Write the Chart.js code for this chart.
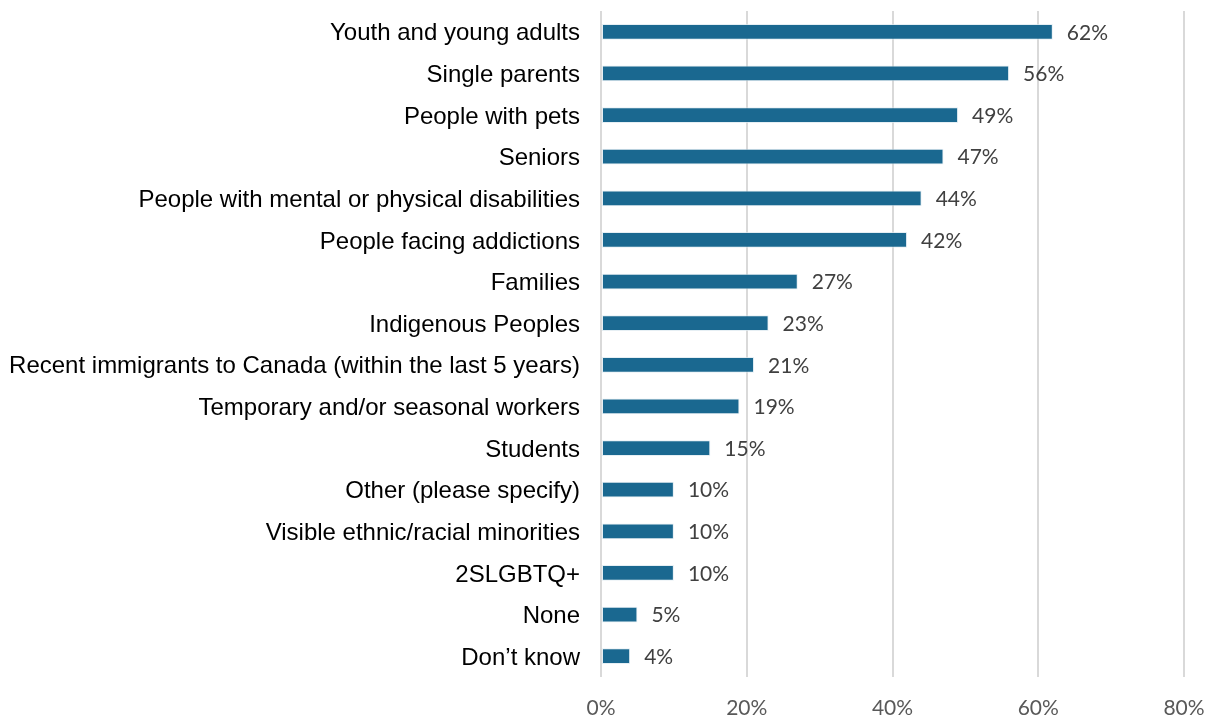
<!DOCTYPE html>
<html>
<head>
<meta charset="utf-8">
<script src="https://cdn.jsdelivr.net/npm/chart.js@4/dist/chart.umd.min.js"></script>
<style>
  html, body { margin: 0; padding: 0; background: #fff; }
  #wrap { width: 1211px; height: 717px; position: relative; }
</style>
</head>
<body>
<div id="wrap"><canvas id="chartGroups"></canvas></div>
<script>
var groups = [
  "Youth and young adults",
  "Single parents",
  "People with pets",
  "Seniors",
  "People with mental or physical disabilities",
  "People facing addictions",
  "Families",
  "Indigenous Peoples",
  "Recent immigrants to Canada (within the last 5 years)",
  "Temporary and/or seasonal workers",
  "Students",
  "Other (please specify)",
  "Visible ethnic/racial minorities",
  "2SLGBTQ+",
  "None",
  "Don\u2019t know"
];
var percents = [62, 56, 49, 47, 44, 42, 27, 23, 21, 19, 15, 10, 10, 10, 5, 4];
var xTicks = [0, 20, 40, 60, 80];

// writes the percentage just past the end of each bar
var barValueLabels = {
  id: 'barValueLabels',
  afterDatasetsDraw: function(chart) {
    var ctx = chart.ctx;
    var meta = chart.getDatasetMeta(0);
    ctx.save();
    ctx.font = '21px Lato, "Open Sans", sans-serif';
    ctx.fillStyle = '#404040';
    ctx.textAlign = 'left';
    ctx.textBaseline = 'middle';
    meta.data.forEach(function(bar, i) {
      ctx.fillText(percents[i] + '%', bar.x + 14, bar.y + 1);
    });
    ctx.restore();
  }
};

var ctx = document.getElementById('chartGroups').getContext('2d');
var chart = new Chart(ctx, {
  type: 'bar',
  data: {
    labels: groups,
    datasets: [{
      data: percents,
      backgroundColor: '#1a6890',
      borderColor: 'rgba(220,232,240,0.7)',
      borderWidth: 1,
      borderSkipped: false,
      barPercentage: 0.38,
      categoryPercentage: 1
    }]
  },
  options: {
    indexAxis: 'y',
    responsive: true,
    maintainAspectRatio: false,
    animation: false,
    layout: { padding: { top: 11, right: 27, left: 0, bottom: 0 } },
    plugins: { legend: { display: false }, tooltip: { enabled: false } },
    scales: {
      x: {
        min: 0, max: 80,
        afterBuildTicks: function(scale) {
          scale.ticks = xTicks.map(function(v) { return { value: v }; });
        },
        afterFit: function(scale) {
          scale.height = 40;
          scale.paddingLeft = 0;
          scale.paddingRight = 0;
        },
        grid: { color: '#d9d9d9', lineWidth: 2, drawTicks: false },
        border: { display: false },
        ticks: {
          padding: 19,
          color: '#595959',
          font: { family: 'Lato, "Open Sans", sans-serif', size: 21 },
          callback: function(v) { return v + '%'; }
        }
      },
      y: {
        afterFit: function(scale) {
          scale.width = 601;
          scale.paddingTop = 0;
          scale.paddingBottom = 0;
        },
        grid: { display: false, drawTicks: false },
        border: { display: false },
        ticks: {
          padding: 21,
          labelOffset: 2,
          color: '#000000',
          font: { family: '"Liberation Sans", Arial, sans-serif', size: 24 }
        }
      }
    }
  },
  plugins: [barValueLabels]
});
</script>
</body>
</html>
